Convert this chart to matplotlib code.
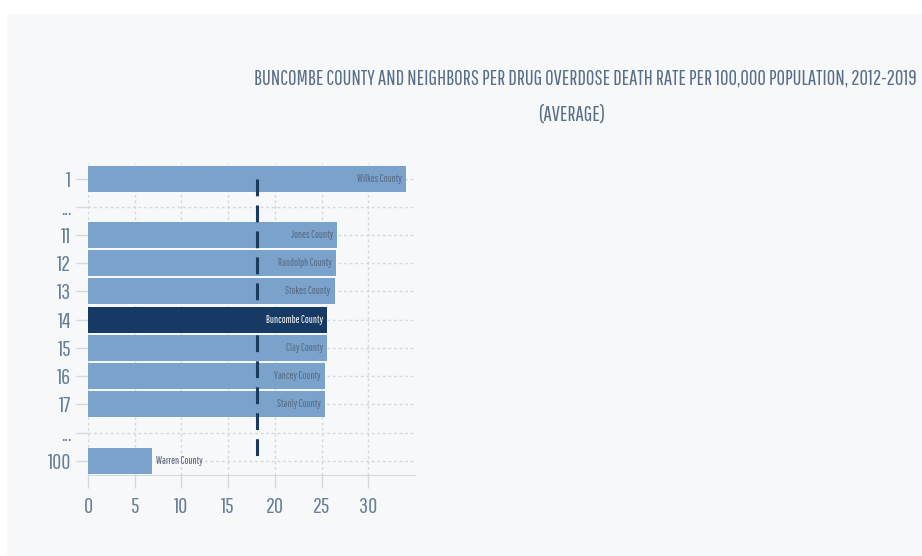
import matplotlib
matplotlib.use("Agg")
import matplotlib.pyplot as plt
from matplotlib.patches import Rectangle

# county ranks and average overdose death rates, 2012-2019
ranks = ["1", "...", "11", "12", "13", "14", "15", "16", "17", "...", "100"]
counties = ["Wilkes County", "", "Jones County", "Randolph County", "Stokes County",
            "Buncombe County", "Clay County", "Yancey County", "Stanly County", "", "Warren County"]
rates = [34.0, 0, 26.7, 26.5, 26.4, 25.6, 25.6, 25.4, 25.4, 0, 6.8]
state_avg = 18.1
highlight = "Buncombe County"

plt.rcParams["font.family"] = ["Pathway Gothic One", "DejaVu Sans"]

bg = "#f6f8fa"
light = "#7aa2cb"
dark = "#163a64"
txt = "#6a7f98"
grid = "#d3d9e1"

fig = plt.figure(figsize=(9.22, 5.56), dpi=100)
fig.patch.set_facecolor("white")
fig.add_artist(Rectangle((7 / 922, 0), 1, 1 - 14 / 556, transform=fig.transFigure,
                         facecolor=bg, edgecolor="none", zorder=-1))

ax = fig.add_axes([88 / 922, 1 - 475 / 556, (415 - 88) / 922, (475 - 163) / 556])
ax.set_facecolor(bg)

ypos = list(range(len(ranks)))
for y, r, name in zip(ypos, rates, counties):
    if not name:
        continue
    color = dark if name == highlight else light
    ax.barh(y, r, height=0.92, color=color, zorder=2)
    if r > 15:
        ax.text(r - 0.45, y, name, ha="right", va="center", fontsize=7.5,
                color="white" if name == highlight else "#566a83", zorder=4)
    else:
        ax.text(r + 0.45, y, name, ha="left", va="center", fontsize=7.5, color="#555f70", zorder=4)

# state average marker
ax.plot([state_avg, state_avg], [0, len(ranks) - 1], color="#1b3a60", lw=2.2,
        dashes=(5.5, 3), zorder=3)

ax.set_xlim(0, 35)
ax.set_ylim(len(ranks) - 0.5, -0.55)
ax.set_xticks([0, 5, 10, 15, 20, 25, 30])
ax.set_yticks(ypos)
ax.set_yticklabels(ranks)
ax.tick_params(axis="both", colors=grid, labelcolor=txt, labelsize=16, length=9, width=1)
ax.tick_params(axis="x", pad=7)
ax.tick_params(axis="y", pad=3)

ax.grid(True, color=grid, lw=1, ls=(0, (2, 2)), zorder=1)
for side in ["top", "right", "left"]:
    ax.spines[side].set_visible(False)
ax.spines["bottom"].set_color(grid)

fig.text(585 / 922, 1 - 78 / 556,
         "BUNCOMBE COUNTY AND NEIGHBORS PER DRUG OVERDOSE DEATH RATE PER 100,000 POPULATION, 2012-2019",
         ha="center", va="center", fontsize=15, color="#5a6f87")
fig.text(572 / 922, 1 - 115 / 556, "(AVERAGE)", ha="center", va="center", fontsize=15, color="#5a6f87")

fig.savefig("out.png", dpi=100, facecolor=fig.get_facecolor())
